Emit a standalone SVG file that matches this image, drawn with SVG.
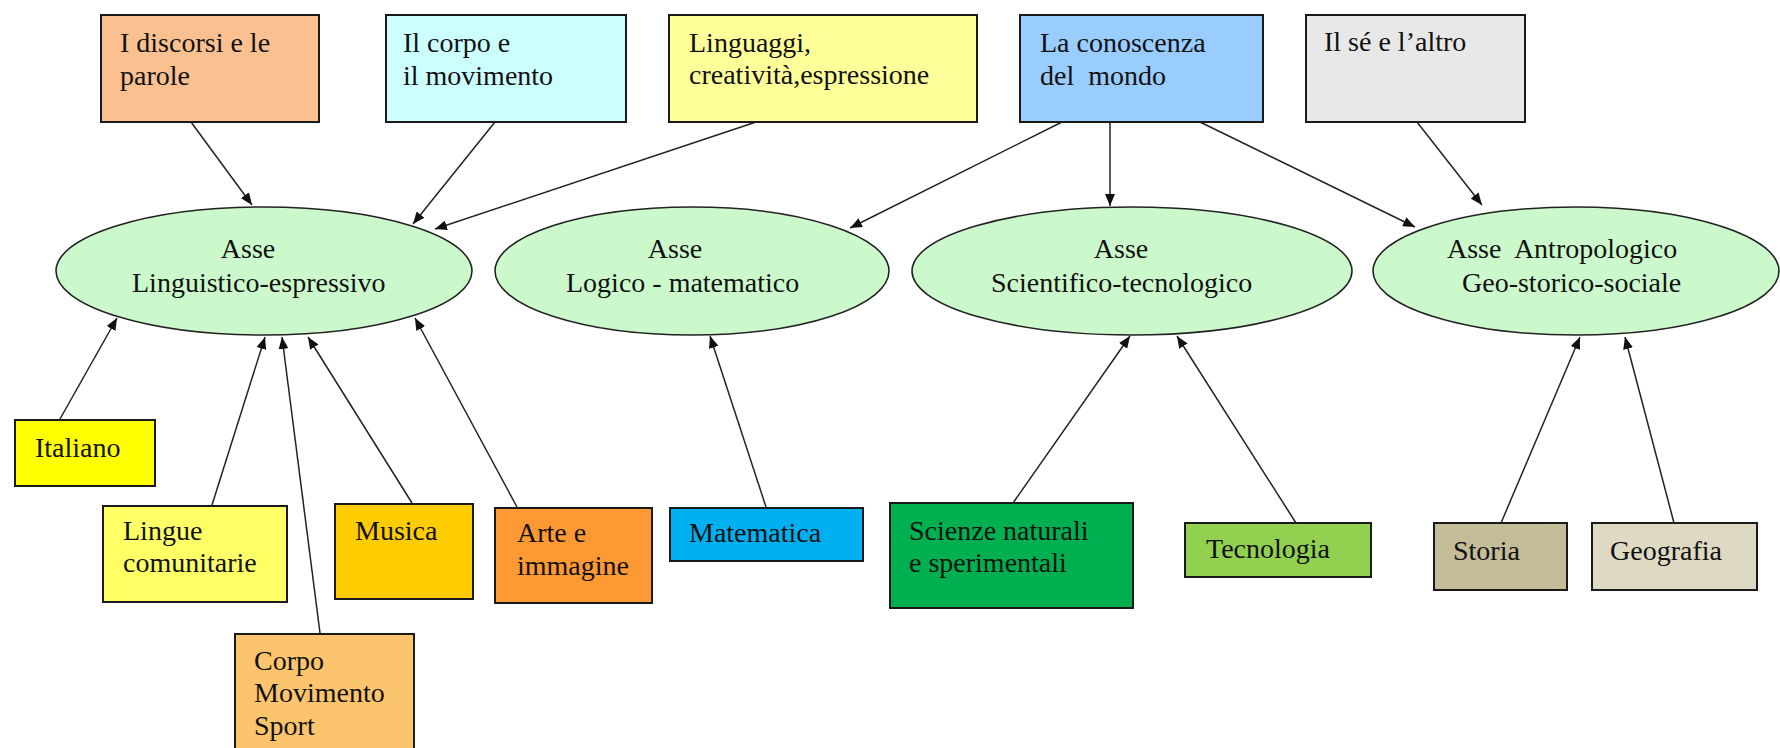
<svg xmlns="http://www.w3.org/2000/svg" width="1780" height="748" viewBox="0 0 1780 748">
<defs>
<style>
text{font-family:"Liberation Serif","Times New Roman",serif;font-size:28px;fill:#111}
.box{stroke:#1a1a1a;stroke-width:2}
.ell{fill:#ccf9cc;stroke:#222;stroke-width:1.6}
.c{text-anchor:middle}
#connectors line{stroke:#222;stroke-width:1.5;marker-end:url(#ah)}
</style>
<marker id="ah" viewBox="0 0 12 10" refX="12" refY="5" markerWidth="12" markerHeight="10" markerUnits="userSpaceOnUse" orient="auto">
<path d="M0,0 L12,5 L0,10 z" fill="#111"/>
</marker>
</defs>
<rect width="1780" height="748" fill="#ffffff"/>

<g id="connectors">
<line x1="191" y1="122" x2="252" y2="205"/>
<line x1="495" y1="122" x2="413" y2="224"/>
<line x1="756" y1="122" x2="435" y2="229"/>
<line x1="1062" y1="122" x2="850" y2="228"/>
<line x1="1110" y1="122" x2="1110" y2="206"/>
<line x1="1200" y1="122" x2="1415" y2="227"/>
<line x1="1417" y1="122" x2="1482" y2="205"/>
<line x1="60" y1="419" x2="117" y2="318"/>
<line x1="212" y1="505" x2="265" y2="337"/>
<line x1="320" y1="633" x2="282" y2="337"/>
<line x1="412" y1="503" x2="308" y2="337"/>
<line x1="517" y1="507" x2="415" y2="318"/>
<line x1="766" y1="507" x2="710" y2="336"/>
<line x1="1013" y1="503" x2="1130" y2="336"/>
<line x1="1296" y1="523" x2="1177" y2="336"/>
<line x1="1501" y1="523" x2="1580" y2="337"/>
<line x1="1674" y1="523" x2="1625" y2="337"/>
</g>

<g id="discorsi">
<rect class="box" x="101" y="15" width="218" height="107" fill="#fac090"/>
<text x="120" y="52">I discorsi e le</text>
<text x="120" y="85">parole</text>
</g>
<g id="corpo">
<rect class="box" x="386" y="15" width="240" height="107" fill="#ccffff"/>
<text x="403" y="52">Il corpo e</text>
<text x="403" y="85">il movimento</text>
</g>
<g id="linguaggi">
<rect class="box" x="669" y="15" width="308" height="107" fill="#ffff99"/>
<text x="689" y="52">Linguaggi,</text>
<text x="689" y="84">creatività,espressione</text>
</g>
<g id="conoscenza">
<rect class="box" x="1020" y="15" width="243" height="107" fill="#99ccff"/>
<text x="1040" y="52">La conoscenza</text>
<text x="1040" y="85" xml:space="preserve">del  mondo</text>
</g>
<g id="se">
<rect class="box" x="1306" y="15" width="219" height="107" fill="#e8e8e8"/>
<text x="1324" y="51">Il sé e l’altro</text>
</g>

<g id="asse-linguistico">
<ellipse class="ell" cx="264" cy="271" rx="208" ry="64"/>
<text class="c" x="248" y="258">Asse</text>
<text x="132" y="292">Linguistico-espressivo</text>
</g>
<g id="asse-logico">
<ellipse class="ell" cx="692" cy="271" rx="197" ry="64"/>
<text class="c" x="675" y="258">Asse</text>
<text x="566" y="292">Logico - matematico</text>
</g>
<g id="asse-scientifico">
<ellipse class="ell" cx="1132" cy="271" rx="220" ry="64"/>
<text class="c" x="1121" y="258">Asse</text>
<text x="991" y="292">Scientifico-tecnologico</text>
</g>
<g id="asse-antropologico">
<ellipse class="ell" cx="1576" cy="271" rx="203" ry="64"/>
<text x="1447" y="258" xml:space="preserve">Asse  Antropologico</text>
<text x="1462" y="292">Geo-storico-sociale</text>
</g>

<g id="italiano">
<rect class="box" x="15" y="420" width="140" height="66" fill="#ffff00"/>
<text x="35" y="457">Italiano</text>
</g>
<g id="lingue">
<rect class="box" x="103" y="506" width="184" height="96" fill="#ffff66"/>
<text x="123" y="540">Lingue</text>
<text x="123" y="572">comunitarie</text>
</g>
<g id="musica">
<rect class="box" x="335" y="504" width="138" height="95" fill="#ffcc00"/>
<text x="355" y="540">Musica</text>
</g>
<g id="arte">
<rect class="box" x="495" y="508" width="157" height="95" fill="#ff9933"/>
<text x="517" y="542">Arte e</text>
<text x="517" y="575">immagine</text>
</g>
<g id="matematica">
<rect class="box" x="670" y="508" width="193" height="53" fill="#00b0f0"/>
<text x="689" y="542">Matematica</text>
</g>
<g id="corpo-sport">
<rect class="box" x="235" y="634" width="179" height="120" fill="#fcc46c"/>
<text x="254" y="670">Corpo</text>
<text x="254" y="702">Movimento</text>
<text x="254" y="735">Sport</text>
</g>
<g id="scienze">
<rect class="box" x="890" y="503" width="243" height="105" fill="#00b050"/>
<text x="909" y="540">Scienze naturali</text>
<text x="909" y="572">e sperimentali</text>
</g>
<g id="tecnologia">
<rect class="box" x="1185" y="523" width="186" height="54" fill="#92d050"/>
<text x="1206" y="558">Tecnologia</text>
</g>
<g id="storia">
<rect class="box" x="1434" y="523" width="133" height="67" fill="#c4bd97"/>
<text x="1453" y="560">Storia</text>
</g>
<g id="geografia">
<rect class="box" x="1592" y="523" width="165" height="67" fill="#ddd9c3"/>
<text x="1610" y="560">Geografia</text>
</g>
</svg>
